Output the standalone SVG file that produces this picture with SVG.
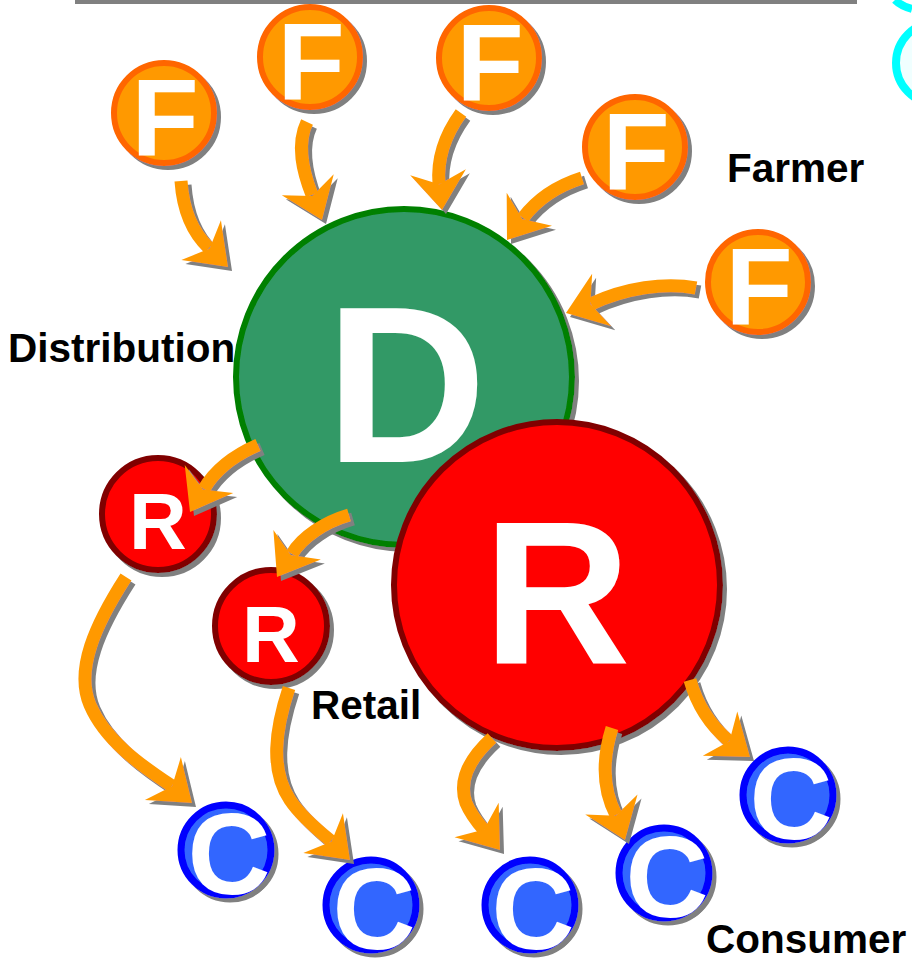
<svg xmlns="http://www.w3.org/2000/svg" xmlns:xlink="http://www.w3.org/1999/xlink" width="912" height="959" viewBox="0 0 912 959">
<style>
.lbl{font-family:"Liberation Sans",Arial,sans-serif;font-weight:bold;font-size:40.5px;fill:#000}
.let{font-family:"Liberation Sans",Arial,sans-serif;font-weight:bold;fill:#fff;text-anchor:middle}
.fc{fill:#ff9900;stroke:#ff6600;stroke-width:6}
.rc{fill:#ff0000;stroke:#800000;stroke-width:6}
.dc{fill:#339966;stroke:#008000;stroke-width:6}
.cc{fill:#3366ff;stroke:#0000ff;stroke-width:7}
.band{fill:none;stroke:#ff9900;stroke-width:13}
</style>
<defs>
<filter id="sh" x="-30%" y="-30%" width="160%" height="160%">
<feOffset in="SourceAlpha" dx="4" dy="4" result="o"/>
<feFlood flood-color="#808080"/>
<feComposite in2="o" operator="in"/>
<feMerge><feMergeNode/><feMergeNode in="SourceGraphic"/></feMerge>
</filter>
<polygon id="head" points="0,0 -38,-28 -26,0 -38,28" fill="#ff9900"/>
</defs>
<rect x="75" y="0" width="782" height="4" fill="#808080"/>
<circle cx="937" cy="63" r="41" fill="#f0ffff" stroke="#00ffff" stroke-width="8"/>
<path d="M895,0 Q901,6 912,9" fill="none" stroke="#00ffff" stroke-width="8"/>

<g id="D" filter="url(#sh)"><circle class="dc" cx="404" cy="377" r="168"/><text class="let" x="406" y="462" font-size="223">D</text></g>
<g id="R" filter="url(#sh)"><circle class="rc" cx="557" cy="585" r="163"/><text class="let" x="557" y="663" font-size="204">R</text></g>
<g id="R1" filter="url(#sh)"><circle class="rc" cx="158" cy="514" r="56"/><text class="let" x="158" y="549" font-size="80">R</text></g>
<g id="R2" filter="url(#sh)"><circle class="rc" cx="271" cy="626" r="56"/><text class="let" x="271" y="662" font-size="80">R</text></g>
<g id="F1" filter="url(#sh)"><circle class="fc" cx="164" cy="113" r="50"/><text class="let" x="165" y="156" font-size="110">F</text></g>
<g id="F2" filter="url(#sh)"><circle class="fc" cx="310" cy="57" r="50"/><text class="let" x="311" y="100" font-size="110">F</text></g>
<g id="F3" filter="url(#sh)"><circle class="fc" cx="489" cy="58" r="50"/><text class="let" x="490" y="101" font-size="110">F</text></g>
<g id="F4" filter="url(#sh)"><circle class="fc" cx="635" cy="147" r="50"/><text class="let" x="636" y="190" font-size="110">F</text></g>
<g id="F5" filter="url(#sh)"><circle class="fc" cx="758" cy="282" r="50"/><text class="let" x="759" y="325" font-size="110">F</text></g>
<g id="C1" filter="url(#sh)"><circle class="cc" cx="226" cy="850" r="45"/><text class="let" x="229" y="894" font-size="115">C</text></g>
<g id="C2" filter="url(#sh)"><circle class="cc" cx="371" cy="905" r="45"/><text class="let" x="374" y="949" font-size="115">C</text></g>
<g id="C3" filter="url(#sh)"><circle class="cc" cx="530" cy="905" r="45"/><text class="let" x="533" y="949" font-size="115">C</text></g>
<g id="C4" filter="url(#sh)"><circle class="cc" cx="664" cy="873" r="45"/><text class="let" x="667" y="917" font-size="115">C</text></g>
<g id="C5" filter="url(#sh)"><circle class="cc" cx="788" cy="795" r="45"/><text class="let" x="791" y="839" font-size="115">C</text></g>

<g id="connectors">
<g filter="url(#sh)"><path class="band" d="M181,181 C183,210 192,232 209,248"/><use xlink:href="#head" transform="translate(228,267) rotate(45)"/></g>
<g filter="url(#sh)"><path class="band" d="M307,122 C296,145 303,172 312,195"/><use xlink:href="#head" transform="translate(322,220) rotate(68)"/></g>
<g filter="url(#sh)"><path class="band" d="M461,113 C445,135 437,160 439,184"/><use xlink:href="#head" transform="translate(442,210) rotate(84)"/></g>
<g filter="url(#sh)"><path class="band" d="M582,178 C560,185 538,198 523,218"/><use xlink:href="#head" transform="translate(507,240) rotate(126)"/></g>
<g filter="url(#sh)"><path class="band" d="M696,288 C665,282 625,288 591,304"/><use xlink:href="#head" transform="translate(566,313) rotate(160)"/></g>
<g filter="url(#sh)"><path class="band" d="M258,445 C235,455 215,470 204,489"/><use xlink:href="#head" transform="translate(190,512) rotate(120)"/></g>
<g filter="url(#sh)"><path class="band" d="M349,515 C325,522 302,537 292,554"/><use xlink:href="#head" transform="translate(277,577) rotate(122)"/></g>
<g filter="url(#sh)"><path class="band" d="M126,577 C95,625 75,670 90,705 C105,740 140,765 172,786"/><use xlink:href="#head" transform="translate(192,803) rotate(40)"/></g>
<g filter="url(#sh)"><path class="band" d="M289,688 C275,730 270,770 290,800 C300,815 315,828 331,841"/><use xlink:href="#head" transform="translate(350,860) rotate(45)"/></g>
<g filter="url(#sh)"><path class="band" d="M492,738 C470,758 458,780 466,803 C471,815 477,822 484,830"/><use xlink:href="#head" transform="translate(500,850) rotate(52)"/></g>
<g filter="url(#sh)"><path class="band" d="M612,728 C602,760 603,790 616,815"/><use xlink:href="#head" transform="translate(625,840) rotate(69)"/></g>
<g filter="url(#sh)"><path class="band" d="M690,680 C697,705 710,725 729,741"/><use xlink:href="#head" transform="translate(750,757) rotate(38)"/></g>
</g>

<text class="lbl" x="727" y="182">Farmer</text>
<text class="lbl" x="8" y="362">Distribution</text>
<text class="lbl" x="311" y="719">Retail</text>
<text class="lbl" x="706" y="953">Consumer</text>
</svg>
